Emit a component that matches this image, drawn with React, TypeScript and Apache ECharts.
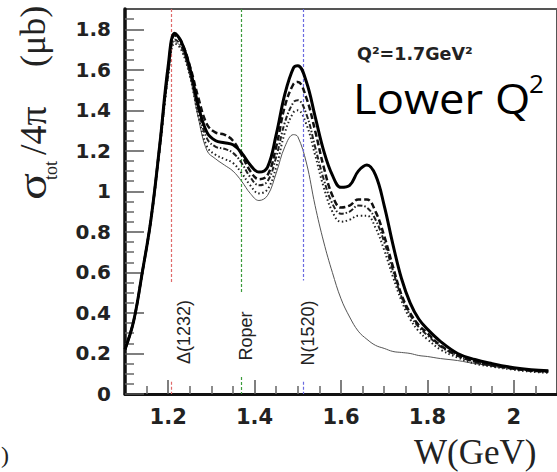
import React, { useEffect, useRef } from "react";
import * as echarts from "echarts";

// W (GeV) sample points shared by all curves
const W = [1.10, 1.12, 1.14, 1.16, 1.18, 1.20, 1.215, 1.23, 1.25, 1.27, 1.29, 1.31, 1.33, 1.35, 1.37, 1.39, 1.41, 1.43, 1.45, 1.47, 1.49, 1.50, 1.52, 1.54, 1.56, 1.58, 1.60, 1.62, 1.64, 1.66, 1.68, 1.70, 1.72, 1.74, 1.76, 1.78, 1.80, 1.83, 1.87, 1.91, 1.95, 2.00, 2.04, 2.08];

const SIG_THICK = [0.22, 0.36, 0.60, 0.86, 1.22, 1.62, 1.78, 1.74, 1.61, 1.42, 1.29, 1.25, 1.24, 1.23, 1.19, 1.13, 1.095, 1.12, 1.28, 1.48, 1.61, 1.62, 1.54, 1.37, 1.20, 1.08, 1.02, 1.03, 1.10, 1.13, 1.08, 0.93, 0.74, 0.57, 0.45, 0.37, 0.32, 0.26, 0.20, 0.17, 0.15, 0.13, 0.12, 0.115];
const SIG_DASH = [0.22, 0.36, 0.60, 0.86, 1.22, 1.60, 1.77, 1.74, 1.62, 1.46, 1.33, 1.29, 1.28, 1.25, 1.18, 1.10, 1.06, 1.08, 1.22, 1.42, 1.53, 1.54, 1.46, 1.30, 1.12, 0.98, 0.92, 0.93, 0.96, 0.96, 0.90, 0.78, 0.63, 0.49, 0.40, 0.34, 0.30, 0.24, 0.19, 0.16, 0.14, 0.125, 0.115, 0.11];
const SIG_DASHDOT = [0.22, 0.36, 0.60, 0.86, 1.21, 1.58, 1.75, 1.72, 1.59, 1.40, 1.26, 1.22, 1.21, 1.19, 1.14, 1.07, 1.03, 1.05, 1.17, 1.34, 1.44, 1.45, 1.38, 1.22, 1.06, 0.94, 0.89, 0.90, 0.93, 0.92, 0.86, 0.75, 0.61, 0.48, 0.39, 0.33, 0.29, 0.235, 0.19, 0.16, 0.14, 0.125, 0.115, 0.11];
const SIG_DOT = [0.22, 0.36, 0.60, 0.86, 1.20, 1.57, 1.73, 1.70, 1.57, 1.37, 1.22, 1.18, 1.16, 1.14, 1.09, 1.03, 0.99, 1.01, 1.12, 1.29, 1.39, 1.40, 1.33, 1.18, 1.02, 0.90, 0.85, 0.86, 0.88, 0.88, 0.82, 0.71, 0.58, 0.46, 0.37, 0.31, 0.27, 0.22, 0.18, 0.15, 0.135, 0.12, 0.11, 0.105];
const SIG_THIN = [0.22, 0.36, 0.60, 0.86, 1.20, 1.57, 1.74, 1.71, 1.57, 1.36, 1.20, 1.16, 1.13, 1.10, 1.05, 0.99, 0.955, 0.98, 1.09, 1.22, 1.28, 1.27, 1.14, 0.93, 0.75, 0.60, 0.47, 0.38, 0.31, 0.27, 0.24, 0.225, 0.21, 0.205, 0.20, 0.19, 0.185, 0.175, 0.165, 0.15, 0.14, 0.13, 0.12, 0.115];

// Resonance marker positions (as drawn) and labels
const RES_W = [1.206, 1.368, 1.513];
const RES_LABELS = ["Δ(1232)", "Roper", "N(1520)"];
const RES_COLORS = ["#e06a6a", "#3c9c3c", "#6a6ae0"];

// Tick values
const X_MAJOR = [1.2, 1.4, 1.6, 1.8, 2.0];
const X_MINOR = [1.15, 1.25, 1.3, 1.35, 1.45, 1.5, 1.55, 1.65, 1.7, 1.75, 1.85, 1.9, 1.95, 2.05];
const Y_MAJOR = [0, 0.2, 0.4, 0.6, 0.8, 1.0, 1.2, 1.4, 1.6, 1.8];
const Y_MINOR = [0.05, 0.1, 0.15, 0.25, 0.3, 0.35, 0.45, 0.5, 0.55, 0.65, 0.7, 0.75, 0.85, 0.9, 0.95, 1.05, 1.1, 1.15, 1.25, 1.3, 1.35, 1.45, 1.5, 1.55, 1.65, 1.7, 1.75, 1.85];

const fmt = (v: number) => String(+Number(v).toFixed(2));

export default function App() {
  const ref = useRef<HTMLDivElement>(null);
  useEffect(() => {
    if (!ref.current) return;
    const chart = echarts.init(ref.current, null, { renderer: "svg" });
    const pairs = (ys: number[]) => W.map((w, i) => [w, ys[i]]);
    const lineSeries = (name: string, ys: number[], ls: any, z: number) => ({
      name,
      type: "line",
      data: pairs(ys),
      showSymbol: false,
      smooth: 0.4,
      xAxisIndex: 0,
      yAxisIndex: 0,
      z,
      lineStyle: ls,
      silent: true,
    });
    const markData: any[] = [];
    RES_W.forEach((w, i) => {
      const lineStyle = { color: RES_COLORS[i], width: 1.2, type: [3, 2] };
      const top = [0.547, 0.50, 0.56][i];
      const bottomStart = [0.06, 0.084, 0.06][i];
      markData.push([{ coord: [w, 1.9], lineStyle }, { coord: [w, top] }]);
      markData.push([{ coord: [w, bottomStart], lineStyle }, { coord: [w, 0] }]);
    });

    const labelFont = "'DejaVu Sans', sans-serif";
    chart.setOption({
      animation: false,
      grid: {
        left: 125,
        top: 9,
        bottom: 78,
        right: -5.5,
        show: true,
        borderColor: "#555",
        borderWidth: 2,
      },
      xAxis: [
        {
          type: "value",
          min: 1.1,
          max: 2.1,
          position: "bottom",
          axisLine: { lineStyle: { color: "#111", width: 3 } },
          axisTick: { inside: true, length: 14, customValues: X_MAJOR, lineStyle: { color: "#555", width: 1.5 } },
          axisLabel: { customValues: X_MAJOR, formatter: fmt, fontFamily: labelFont, fontWeight: "bold", fontSize: 21, color: "#222", margin: 12 },
          splitLine: { show: false },
        },
        {
          type: "value",
          min: 1.1,
          max: 2.1,
          position: "bottom",
          axisLine: { show: false },
          axisTick: { inside: true, length: 8, customValues: X_MINOR, lineStyle: { color: "#666", width: 1.5 } },
          axisLabel: { show: false },
          splitLine: { show: false },
        },
      ],
      yAxis: [
        {
          type: "value",
          min: 0,
          max: 1.9,
          axisLine: { show: true, lineStyle: { color: "#111", width: 3.5 } },
          axisTick: { show: true, inside: true, length: 19, customValues: Y_MAJOR, lineStyle: { color: "#555", width: 1.5 } },
          axisLabel: { customValues: Y_MAJOR, formatter: fmt, fontFamily: labelFont, fontWeight: "bold", fontSize: 20, color: "#222", margin: 14 },
          splitLine: { show: false },
        },
        {
          type: "value",
          min: 0,
          max: 1.9,
          position: "left",
          axisLine: { show: false },
          axisTick: { show: true, inside: true, length: 9, customValues: Y_MINOR, lineStyle: { color: "#666", width: 1.5 } },
          axisLabel: { show: false },
          splitLine: { show: false },
        },
      ],
      series: [
        {
          type: "line",
          data: [],
          xAxisIndex: 0,
          yAxisIndex: 0,
          silent: true,
          markLine: { symbol: "none", silent: true, label: { show: false }, data: markData },
        },
        lineSeries("thin", SIG_THIN, { color: "#555", width: 1 }, 3),
        lineSeries("dot", SIG_DOT, { color: "#222", width: 2, type: [1.5, 2.5] }, 4),
        lineSeries("dashdot", SIG_DASHDOT, { color: "#222", width: 2, type: [5, 2, 1.5, 2] }, 5),
        lineSeries("dash", SIG_DASH, { color: "#111", width: 2.5, type: [6, 3] }, 6),
        lineSeries("thick", SIG_THICK, { color: "#000", width: 3 }, 7),
      ],
      graphic: [
        ...RES_LABELS.map((t, i) => ({
          type: "text",
          x: [183.5, 246, 307.5][i],
          y: [332, 336, 333][i],
          rotation: Math.PI / 2,
          style: { text: t, font: "18px 'Liberation Sans', Arial, sans-serif", fill: "#222", align: "center", verticalAlign: "middle" },
          z: 10,
        })),
        {
          type: "text",
          x: 357,
          y: 54,
          style: { text: "Q²=1.7GeV²", font: "bold 17.5px 'DejaVu Sans', sans-serif", fill: "#222", align: "left", verticalAlign: "middle" },
          z: 10,
        },
        {
          type: "text",
          x: 353,
          y: 98,
          scaleX: 1.08,
          style: { text: "Lower Q", font: "42px 'Open Sans', sans-serif", fill: "#000", align: "left", verticalAlign: "middle" },
          z: 10,
        },
        {
          type: "text",
          x: 529,
          y: 83,
          style: { text: "2", font: "26px 'Open Sans', sans-serif", fill: "#000", align: "left", verticalAlign: "middle" },
          z: 10,
        },
        {
          type: "text",
          x: 414,
          y: 452,
          style: { text: "W(GeV)", font: "35px 'Liberation Serif', serif", fill: "#222", align: "left", verticalAlign: "middle" },
          z: 10,
        },
        {
          type: "text",
          x: 1,
          y: 455,
          style: { text: ")", font: "24px 'Liberation Serif', serif", fill: "#222", align: "left", verticalAlign: "middle" },
          z: 10,
        },
        {
          type: "group",
          x: 33,
          y: 200,
          rotation: Math.PI / 2,
          z: 10,
          children: [
            { type: "text", x: 0, y: 0, scaleX: 1.25, style: { text: "σ", font: "40px 'Liberation Serif', serif", fill: "#222", align: "left", verticalAlign: "middle" } },
            { type: "text", x: 20, y: 18, style: { text: "tot", font: "18px 'Liberation Serif', serif", fill: "#222", align: "left", verticalAlign: "middle" } },
            { type: "text", x: 45, y: 0, style: { text: "/4π", font: "38px 'Liberation Serif', serif", fill: "#222", align: "left", verticalAlign: "middle" } },
            { type: "text", x: 133, y: 0, style: { text: "(μb)", font: "36px 'Liberation Serif', serif", fill: "#222", align: "left", verticalAlign: "middle" } },
          ],
        },
      ],
    });
    return () => chart.dispose();
  }, []);
  return <div ref={ref} style={{ position: "fixed", left: 0, top: 0, width: 557, height: 472, background: "#fff" }} />;
}
